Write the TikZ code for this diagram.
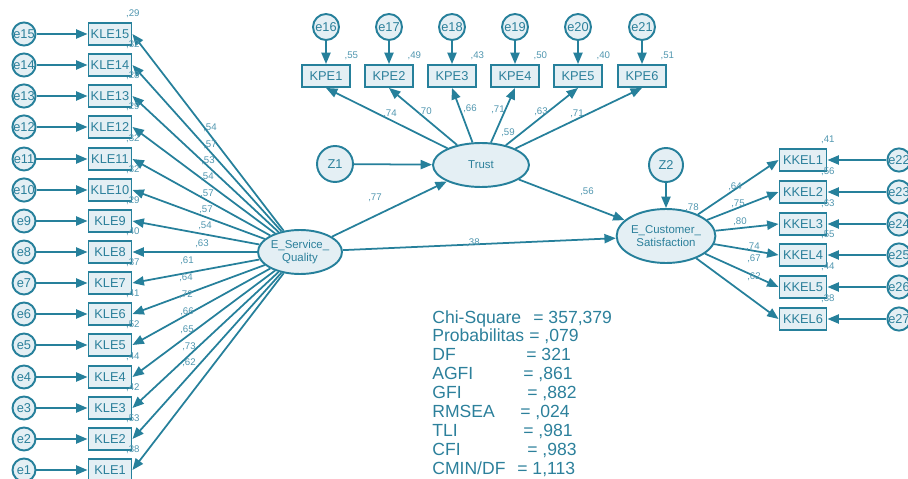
\documentclass[tikz,border=0pt]{standalone}
\usepackage{fontspec}
\setmainfont{Liberation Sans}
\usepackage{tikz}
\usetikzlibrary{positioning,arrows.meta,shapes.geometric}

\definecolor{amosline}{RGB}{38,128,155}
\definecolor{amosfill}{RGB}{228,239,244}
\definecolor{amostext}{RGB}{44,128,155}
\definecolor{amoslab}{RGB}{80,150,175}

\tikzset{
  obs/.style={draw=amosline, fill=amosfill, line width=1.1pt, minimum width=0.86cm, minimum height=0.44cm, inner sep=0pt, font=\fontsize{7.3}{8}\selectfont, text=amostext},
  err/.style={circle, draw=amosline, fill=amosfill, line width=1.1pt, minimum size=0.46cm, inner sep=0pt, font=\fontsize{7.3}{8}\selectfont, text=amostext},
  lat/.style={ellipse, draw=amosline, fill=amosfill, line width=1.1pt, inner sep=0pt, align=center, font=\fontsize{6.5}{7.5}\selectfont, text=amostext},
  lab/.style={inner sep=0pt, font=\fontsize{5.5}{6}\selectfont, text=amoslab},
  var/.style={lab, anchor=base west, xshift=-3.8pt, yshift=3pt},
  arr/.style={draw=amosline, line width=1pt, -{Triangle[length=6.5pt,width=5.2pt]}},
  stat/.style={inner sep=0pt, anchor=base west, font=\fontsize{10}{11}\selectfont, text=amostext}
}

\begin{document}
\begin{tikzpicture}[x=0.02cm, y=-0.02cm]
  \useasboundingbox (0,0) rectangle (908,479);

  % latent variables
  \node[lat, minimum width=1.68cm, minimum height=0.88cm] (esq) at (300,252) {E\_Service\_\\Quality};
  \node[lat, minimum width=1.92cm, minimum height=0.88cm] (trust) at (481,165) {Trust};
  \node[lat, minimum width=1.88cm, minimum height=1.08cm] (ecs) at (666,236) {E\_Customer\_\\Satisfaction};

  % disturbances
  \node[err, minimum size=0.72cm] (z1) at (335,164) {Z1};
  \node[err, minimum size=0.68cm] (z2) at (666,165) {Z2};
  \draw[arr] (z1) -- (trust);
  \draw[arr] (z2) -- (ecs);

  % structural paths
  \draw[arr] (esq) -- (trust);
  \draw[arr] (esq) -- (ecs);
  \draw[arr] (trust) -- (ecs);
  \node[lab] (p77) at (375,198) {,77};
  \node[lab] (p38) at (473,243) {,38};
  \node[lab] (p56) at (587,192) {,56};
  \node[lab] (r59) at (508,133) {,59};
  \node[lab] (r78) at (692,208) {,78};

  % KLE indicators
  \foreach \i/\y/\r/\l/\lx/\ly in {
    15/34/29/54/210/128, 14/65/32/57/210/145, 13/96/28/53/208/161,
    12/127/29/54/207/177, 11/159/32/57/207/194, 10/190/32/57/206/210,
    9/221/29/54/205/226, 8/252/40/63/202/244, 7/283/37/61/187/261,
    6/314/41/64/186/278, 5/345/52/72/186/295, 4/377/44/66/187/312,
    3/408/42/65/187/330, 2/439/53/73/189/347, 1/470/38/62/189/363
  }{
    \node[obs] (kle\i) at (110,\y) {KLE\i};
    \node[err] (e\i) at (24,\y) {e\i};
    \draw[arr] (e\i) -- (kle\i);
    \draw[arr] (esq) -- (kle\i.east);
    \node[var] (rk\i) at (kle\i.north east) {,\r};
    \node[lab] (lk\i) at (\lx,\ly) {,\l};
  }

  % KPE indicators
  \foreach \i/\e/\x/\r/\l/\lx/\ly in {
    1/16/326/55/74/390/114, 2/17/389/49/70/425/112, 3/18/452/43/66/470/109,
    4/19/515/50/71/498/110, 5/20/578/40/63/541/112, 6/21/642/51/71/577/114
  }{
    \node[obs, minimum width=0.96cm] (kpe\i) at (\x,76) {KPE\i};
    \node[err, minimum size=0.52cm] (e\e) at (\x,27) {e\e};
    \draw[arr] (e\e) -- (kpe\i);
    \draw[arr] (trust) -- (kpe\i.south);
    \node[var] (rp\i) at (kpe\i.north east) {,\r};
    \node[lab] (lp\i) at (\lx,\ly) {,\l};
  }

  % KKEL indicators
  \foreach \i/\e/\y/\r/\l/\lx/\ly in {
    1/22/160/41/64/735/187, 2/23/192/56/75/738/204, 3/24/224/63/80/740/222,
    4/25/255/55/74/753/247, 5/26/287/44/67/754/259, 6/27/319/38/62/754/277
  }{
    \node[obs, minimum width=0.94cm] (kkel\i) at (803,\y) {KKEL\i};
    \node[err] (e\e) at (899,\y) {e\e};
    \draw[arr] (e\e) -- (kkel\i);
    \draw[arr] (ecs) -- (kkel\i.west);
    \node[var] (rc\i) at (kkel\i.north east) {,\r};
    \node[lab] (lc\i) at (\lx,\ly) {,\l};
  }

  % fit indices
  \foreach \k/\name/\ex/\val in {
    0/{Chi-Square}/533/{= 357,379}, 1/{Probabilitas}/529/{= ,079},
    2/{DF}/526/{= 321}, 3/{AGFI}/523/{= ,861}, 4/{GFI}/527/{= ,882},
    5/{RMSEA}/520/{= ,024}, 6/{TLI}/523/{= ,981}, 7/{CFI}/527/{= ,983},
    8/{CMIN/DF}/517/{= 1,113}
  }{
    \pgfmathsetmacro\yb{323+18.9*\k}
    \node[stat] (s\k) at (432,\yb) {\name};
    \node[stat] (v\k) at (\ex,\yb) {\val};
  }
\end{tikzpicture}
\end{document}
